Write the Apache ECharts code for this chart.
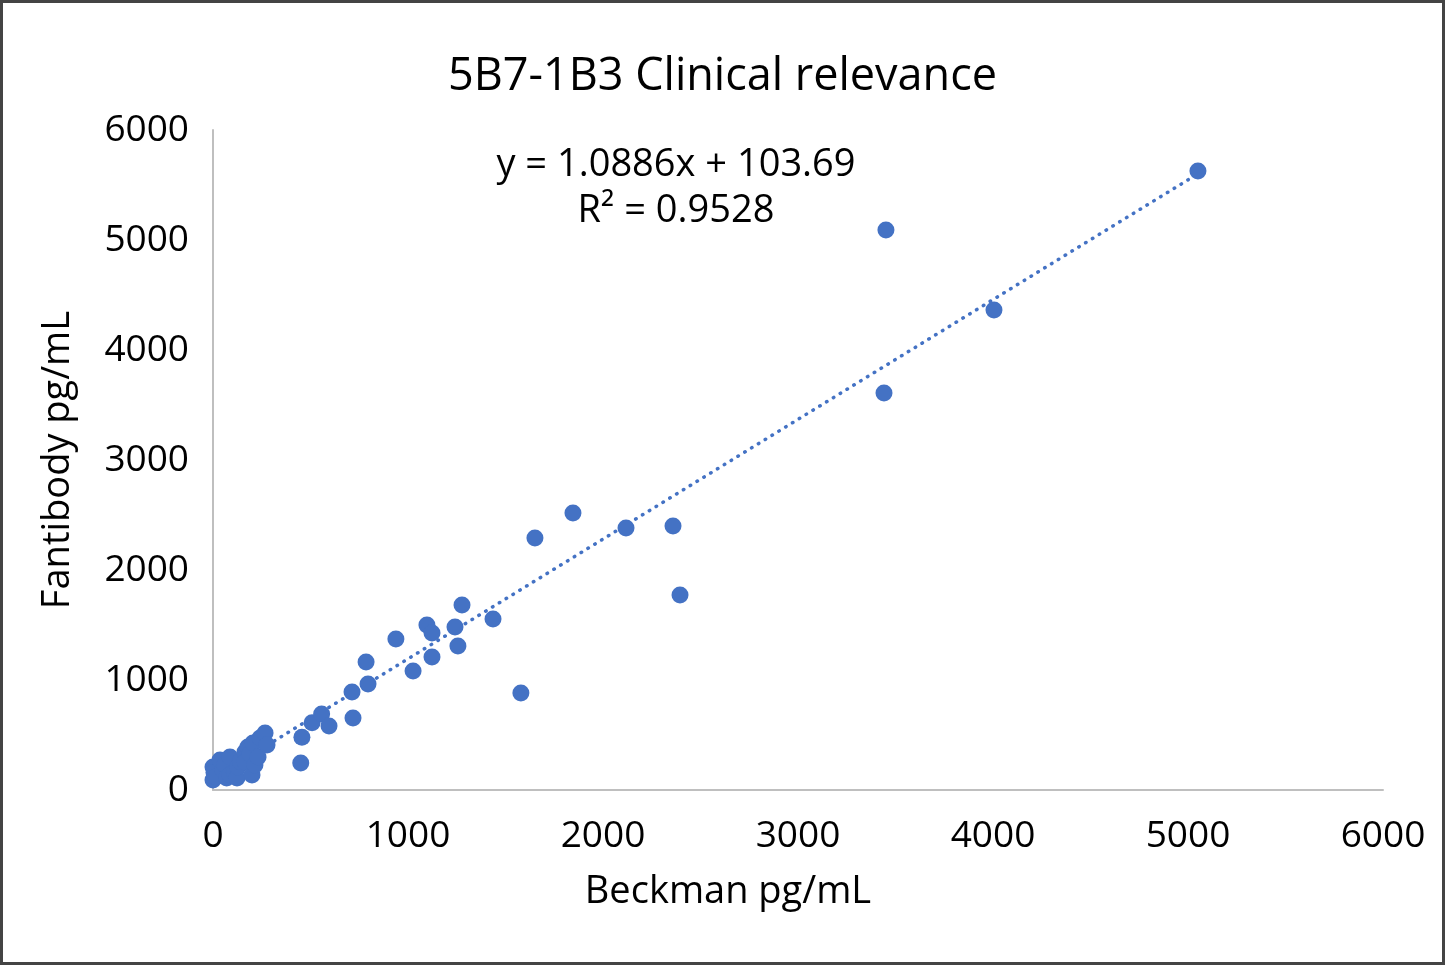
<!DOCTYPE html>
<html lang="en">
<head>
    <meta charset="UTF-8">
    <title>5B7-1B3 Clinical relevance</title>
    <script src="https://cdn.jsdelivr.net/npm/echarts@6/dist/echarts.min.js"></script>
    <style>
        html, body { margin: 0; padding: 0; background: #fff; }
        #chart { width: 1445px; height: 965px; }
    </style>
</head>
<body>
    <div id="chart"></div>
<script type="text/javascript">
    // Beckman (x) vs Fantibody (y), pg/mL
    var beckman = [0, 0, 5, 15, 36, 51, 60, 70, 87, 87, 110, 123, 128, 140, 164, 164, 179, 190, 200, 205, 215, 231, 241, 267, 277,
        450, 456, 508, 557, 595, 713, 718, 785, 795, 938, 1026, 1097, 1123, 1123, 1241, 1256, 1277, 1436, 1579,
        1651, 1846, 2118, 2359, 2395, 3441, 3451, 4005, 5051];
    var fantibody = [91, 209, 160, 120, 273, 182, 230, 110, 300, 136, 160, 109, 209, 260, 345, 255, 391, 330, 136, 427, 227, 300, 473, 518, 409,
        245, 480, 612, 691, 582, 891, 655, 1164, 964, 1373, 1082, 1500, 1427, 1209, 1482, 1309, 1682, 1555, 882,
        2291, 2518, 2382, 2400, 1773, 3609, 5091, 4364, 5627];
    var xTicks = [0, 1000, 2000, 3000, 4000, 5000, 6000];
    var yTicks = [0, 1000, 2000, 3000, 4000, 5000, 6000];

    // linear trendline shown on the chart
    var slope = 1.0886, intercept = 103.69, r2 = 0.9528;

    var points = [];
    for (var i = 0; i < beckman.length; i++) {
        points.push([beckman[i], fantibody[i]]);
    }
    var xMin = Math.min.apply(null, beckman);
    var xMax = Math.max.apply(null, beckman);
    var trend = [[xMin, slope * xMin + intercept], [xMax, slope * xMax + intercept]];

    var font = '"Open Sans", "Noto Sans", sans-serif';
    var blue = '#4472C4';

    var myChart = echarts.init(document.getElementById('chart'));
    var option = {
        animation: false,
        backgroundColor: '#fff',
        title: {
            text: '5B7-1B3 Clinical relevance',
            left: 'center',
            top: 50,
            textStyle: { fontFamily: font, fontSize: 45, fontWeight: 'normal', color: '#000' }
        },
        grid: { left: 213, right: 62, top: 130, bottom: 175 },
        xAxis: {
            type: 'value',
            min: 0, max: 6000, interval: 1000,
            axisLine: { show: true, lineStyle: { color: '#bfbfbf', width: 2 } },
            axisTick: { show: false },
            splitLine: { show: false },
            axisLabel: {
                fontFamily: font, fontSize: 37, color: '#000', margin: 28,
                formatter: function (v) { return xTicks.indexOf(v) >= 0 ? String(v) : ''; }
            }
        },
        yAxis: {
            type: 'value',
            min: 0, max: 6000, interval: 1000,
            name: 'Fantibody pg/mL',
            nameLocation: 'middle',
            nameGap: 136,
            nameTextStyle: { fontFamily: font, fontSize: 38, color: '#000' },
            axisLine: { show: true, lineStyle: { color: '#bfbfbf', width: 2 } },
            axisTick: { show: false },
            splitLine: { show: false },
            axisLabel: {
                fontFamily: font, fontSize: 37, color: '#000', margin: 24,
                formatter: function (v) { return yTicks.indexOf(v) >= 0 ? String(v) : ''; }
            }
        },
        series: [{
            type: 'line',
            data: trend,
            symbol: 'none',
            silent: true,
            z: 1,
            lineStyle: { color: blue, width: 3.5, type: [0.5, 7.5], cap: 'round' }
        }, {
            type: 'scatter',
            data: points,
            symbol: 'circle',
            symbolSize: 17,
            z: 2,
            itemStyle: { color: blue, opacity: 1 }
        }],
        graphic: [{
            type: 'text',
            x: 676,
            y: 142,
            style: {
                text: 'y = 1.0886x + 103.69\nR² = 0.9528',
                fontFamily: font,
                fontSize: 38,
                lineHeight: 46,
                align: 'center',
                verticalAlign: 'top',
                fill: '#000'
            }
        }, {
            type: 'text',
            x: 728,
            y: 892,
            style: {
                text: 'Beckman pg/mL',
                fontFamily: font,
                fontSize: 38,
                align: 'center',
                verticalAlign: 'middle',
                fill: '#000'
            }
        }, {
            type: 'rect',
            shape: { x: 1.5, y: 1.5, width: 1442, height: 962 },
            style: { fill: 'none', stroke: '#444', lineWidth: 3 },
            silent: true
        }]
    };
    myChart.setOption(option);
</script>
</body>
</html>
